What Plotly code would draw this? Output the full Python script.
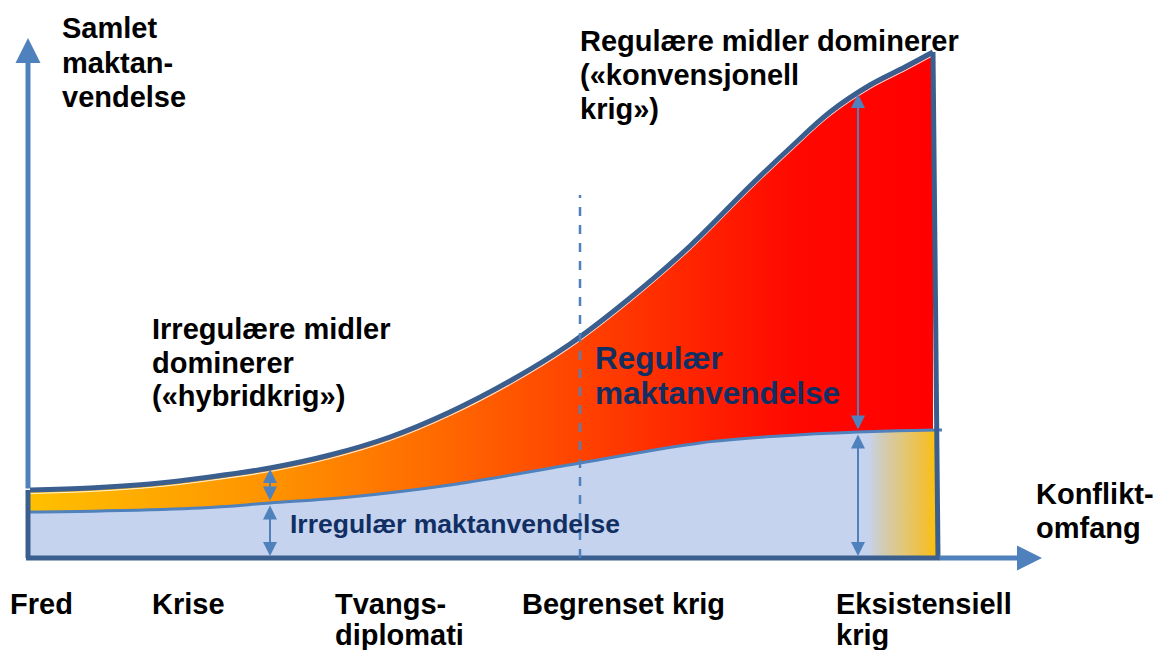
import numpy as np
import plotly.graph_objects as go

# ---- data (x: conflict scope, y: use of force above baseline) ----
x_pts = [30, 90, 150, 210, 270, 330, 390, 450, 510, 570, 630, 690, 750, 790, 830, 870, 905, 933]
upper = [68, 70, 74, 81, 90, 103, 121, 146, 177, 214, 260, 312, 372, 410, 446, 473, 491, 506]

xl_pts = [30, 100, 200, 270, 350, 450, 580, 700, 780, 858, 938]
lower = [46, 47, 50, 55, 61, 73, 95, 115, 122, 126, 128]

x_labels = [["Fred"], ["Krise"], ["Tvangs-", "diplomati"], ["Begrenset krig"], ["Eksistensiell", "krig"]]
x_label_pos = [8, 150, 333, 520, 834]

arrow_x = [270, 858]
divider_x = 580
divider_top = 363

BLUE = "#4F81BD"
DARK = "#3A5F8F"
LIGHT = "#C5D3EE"
NAVY = "#112F62"
FONT = "Liberation Sans, Arial, sans-serif"

fig = go.Figure()

# irregular (lower) area
fig.add_trace(go.Scatter(x=xl_pts, y=lower, mode="lines", line=dict(width=0, shape="spline"),
                         fill="tozeroy", fillcolor=LIGHT, hoverinfo="skip", showlegend=False))
# regular (upper) area with gradient: fill between upper curve and lower curve
low_on_upper = np.interp(x_pts, xl_pts, lower)
fig.add_trace(go.Scatter(x=x_pts, y=low_on_upper, mode="lines", line=dict(width=0, shape="spline"),
                         hoverinfo="skip", showlegend=False))
fig.add_trace(go.Scatter(x=x_pts, y=upper, mode="lines", line=dict(width=0, shape="spline"),
                         fill="tonexty",
                         fillgradient=dict(type="horizontal", start=30, stop=933,
                                           colorscale=[[0, "#FFC000"], [0.28, "#FF9000"],
                                                       [0.45, "#FF6A00"], [0.62, "#FF4000"],
                                                       [0.85, "#FF0800"], [1, "#FF0000"]]),
                         hoverinfo="skip", showlegend=False))
# white inner rim under the upper outline
fig.add_trace(go.Scatter(x=x_pts, y=[u - 3.5 for u in upper], mode="lines",
                         line=dict(color="rgba(255,255,255,0.85)", width=1.2, shape="spline"),
                         hoverinfo="skip", showlegend=False))
# right gradient patch in lower area
gx = np.linspace(868, 938, 12)
gy = np.interp(gx, xl_pts, lower)
fig.add_trace(go.Scatter(x=gx, y=gy, mode="lines", line=dict(width=0),
                         fill="tozeroy",
                         fillgradient=dict(type="horizontal", start=868, stop=938,
                                           colorscale=[[0, LIGHT], [0.2, "#D0CCB8"], [0.5, "#E2C77A"],
                                                       [0.8, "#F0C03C"], [1, "#FFC000"]]),
                         hoverinfo="skip", showlegend=False))
# lower curve line
fig.add_trace(go.Scatter(x=xl_pts + [942], y=lower + [lower[-1]], mode="lines",
                         line=dict(color=BLUE, width=3, shape="spline"),
                         hoverinfo="skip", showlegend=False))
# upper outline
fig.add_trace(go.Scatter(x=x_pts, y=upper, mode="lines",
                         line=dict(color=DARK, width=5, shape="spline"),
                         hoverinfo="skip", showlegend=False))
fig.add_trace(go.Scatter(x=[x_pts[-1], 938], y=[upper[-1], 0], mode="lines",
                         line=dict(color=DARK, width=5), hoverinfo="skip", showlegend=False))
fig.add_trace(go.Scatter(x=[28, 28], y=[0, upper[0]], mode="lines",
                         line=dict(color=DARK, width=5), hoverinfo="skip", showlegend=False))

ann = []
# axes arrows
ann.append(dict(x=1042, y=0, ax=938, ay=0, xref="x", yref="y", axref="x", ayref="y",
                showarrow=True, arrowhead=2, arrowsize=1.0, arrowwidth=5, arrowcolor=BLUE, text=""))
ann.append(dict(x=28, y=520, ax=28, ay=upper[0], xref="x", yref="y", axref="x", ayref="y",
                showarrow=True, arrowhead=2, arrowsize=1.0, arrowwidth=5, arrowcolor=BLUE, text=""))
# bottom dark frame line
fig.add_trace(go.Scatter(x=[26, 940], y=[0, 0], mode="lines",
                         line=dict(color=DARK, width=5), hoverinfo="skip", showlegend=False))

# double-headed arrows
for ax_ in arrow_x:
    up = float(np.interp(ax_, x_pts, upper))
    lo = float(np.interp(ax_, xl_pts, lower))
    ann.append(dict(x=ax_, y=up - 1, ax=ax_, ay=lo + 1, xref="x", yref="y", axref="x", ayref="y",
                    showarrow=True, arrowhead=2, startarrowhead=2, arrowside="end+start",
                    arrowsize=1.4, startarrowsize=1.4, arrowwidth=2, arrowcolor=BLUE, text=""))
    ann.append(dict(x=ax_, y=2, ax=ax_, ay=lo - 1, xref="x", yref="y", axref="x", ayref="y",
                    showarrow=True, arrowhead=2, startarrowhead=2, arrowside="end+start",
                    arrowsize=1.4, startarrowsize=1.4, arrowwidth=2, arrowcolor=BLUE, text=""))

def txt(x, y_first_px, lines, size=29, color="black", gap=34.5):
    for i, s in enumerate(lines):
        ann.append(dict(x=x, y=558 - (y_first_px + i * gap), xref="x", yref="y", text=s,
                        showarrow=False, xanchor="left", yanchor="middle", align="left",
                        font=dict(family=FONT, size=size, color=color, weight="bold")))

txt(60, 28, ["Samlet", "maktan-", "vendelse"])
txt(578, 41, ["Regulære midler dominerer", "(«konvensjonell", "krig»)"], gap=34)
txt(150, 329, ["Irregulære midler", "dominerer", "(«hybridkrig»)"], gap=33.5)
txt(593, 358, ["Regulær", "maktanvendelse"], size=31.5, color=NAVY, gap=35)
txt(288, 524, ["Irregulær maktanvendelse"], size=26.5, color=NAVY)
txt(1034, 494, ["Konflikt-", "omfang"], gap=34)
for lab, xp in zip(x_labels, x_label_pos):
    txt(xp, 604, lab, gap=31)

fig.update_layout(
    width=1157, height=650,
    margin=dict(l=0, r=0, t=0, b=0),
    paper_bgcolor="white", plot_bgcolor="white",
    xaxis=dict(range=[0, 1157], visible=False, fixedrange=True),
    yaxis=dict(range=[-92, 558], visible=False, fixedrange=True),
    shapes=[dict(type="line", x0=divider_x, x1=divider_x, y0=0, y1=divider_top, xref="x", yref="y",
                 line=dict(color=BLUE, width=2.5, dash="dash"), layer="above")],
    annotations=ann,
    showlegend=False,
)
fig.write_html("out.html", config={"displayModeBar": False},
               post_script="document.body.style.margin='0';document.body.style.overflow='hidden';")
